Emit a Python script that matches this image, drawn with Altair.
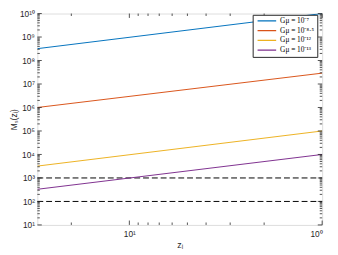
import altair as alt
import pandas as pd

# ---- data ----
z_ends = [30, 1]
series_labels = ["Gμ = 10⁻⁷", "Gμ = 10⁻⁸·⁵", "Gμ = 10⁻¹²", "Gμ = 10⁻¹³"]
blue_vals = [3.2e8, 1.0e10]
orange_vals = [1.0e6, 2.9e7]
yellow_vals = [3.2e3, 1.0e5]
purple_vals = [3.3e2, 1.0e4]
series_colors = ["#0072BD", "#D95319", "#EDB120", "#7E2F8E"]
dashed_levels = [1e3, 1e2]
x_major = [1, 10]
x_minor = [2, 3, 4, 5, 6, 7, 8, 9, 20]
y_major = [10.0 ** k for k in range(1, 11)]
y_minor = [m * 10.0 ** k for k in range(1, 10) for m in range(2, 10)]

W, H = 291, 216
AX = "#262626"

rows = []
for lab, vals in zip(series_labels, [blue_vals, orange_vals, yellow_vals, purple_vals]):
    for z, m in zip(z_ends, vals):
        rows.append({"z": z, "M": m, "series": lab})
df = pd.DataFrame(rows)

dash_df = pd.DataFrame([{"z": z, "M": lv, "lev": str(lv)} for lv in dashed_levels for z in z_ends])

xs = alt.Scale(type="log", domain=[1, 30], reverse=True, nice=False)
ys = alt.Scale(type="log", domain=[10, 1e10], nice=False)

sup = "['⁰','¹','²','³','⁴','⁵','⁶','⁷','⁸','⁹','¹⁰']"
xaxis = alt.Axis(values=x_major, ticks=False, domain=False, grid=False,
                 labelExpr="'10' + " + sup + "[round(log(datum.value)/LN10)]",
                 labelFont="Liberation Sans", labelFontSize=8.5, labelColor=AX,
                 labelPadding=5, title="zᵢ", titleFont="Liberation Sans",
                 titleFontSize=9, titleFontWeight="normal", titleColor=AX, titlePadding=3)
yaxis = alt.Axis(values=y_major, ticks=False, domain=False, grid=False,
                 labelExpr="'10' + " + sup + "[round(log(datum.value)/LN10)]",
                 labelFont="Liberation Sans", labelFontSize=8.5, labelColor=AX,
                 labelPadding=3, title="Mₛ(zᵢ)", titleFont="Liberation Sans",
                 titleFontSize=8.5, titleFontWeight="normal", titleColor=AX, titlePadding=1)

lines = alt.Chart(df).mark_line(strokeWidth=1, clip=True).encode(
    x=alt.X("z:Q", scale=xs, axis=xaxis),
    y=alt.Y("M:Q", scale=ys, axis=yaxis),
    color=alt.Color("series:N", scale=alt.Scale(domain=series_labels, range=series_colors),
                    legend=alt.Legend(title=None, orient="none", legendX=220, legendY=1.3,
                                      direction="vertical", fillColor="white", strokeColor=AX,
                                      padding=1.5, symbolType="stroke", symbolSize=361,
                                      clipHeight=9.3, rowPadding=0,
                                      symbolStrokeWidth=1.2, labelFont="Liberation Serif",
                                      labelFontSize=7.5, labelColor="#000",
                                      symbolOffset=2.5, labelOffset=3)),
)

dashes = alt.Chart(dash_df).mark_line(strokeWidth=1, strokeDash=[6, 3], color="#000").encode(
    x=alt.X("z:Q", scale=xs, axis=xaxis),
    y=alt.Y("M:Q", scale=ys, axis=yaxis),
    detail="lev:N",
)


def xticks(vals, length):
    d = pd.DataFrame({"v": vals})
    base = alt.Chart(d).mark_rule(color=AX, strokeWidth=0.8)
    b = base.encode(x=alt.X("v:Q", scale=xs, axis=xaxis), y=alt.value(H), y2=alt.value(H - length))
    t = base.encode(x=alt.X("v:Q", scale=xs, axis=xaxis), y=alt.value(0), y2=alt.value(length))
    return [b, t]


def yticks(vals, length):
    d = pd.DataFrame({"v": vals})
    base = alt.Chart(d).mark_rule(color=AX, strokeWidth=0.8)
    l = base.encode(y=alt.Y("v:Q", scale=ys, axis=yaxis), x=alt.value(0), x2=alt.value(length))
    r = base.encode(y=alt.Y("v:Q", scale=ys, axis=yaxis), x=alt.value(W), x2=alt.value(W - length))
    return [l, r]


layers = [dashes, lines] + xticks(x_major, 4.5) + xticks(x_minor, 2.5) + yticks(y_major, 4.5) + yticks(y_minor, 2.5)

chart = alt.layer(*layers).properties(
    width=W, height=H,
    autosize=alt.AutoSizeParams(type="none"),
    padding={"left": 30, "top": 3, "right": 8, "bottom": 25},
).configure_view(stroke=AX, strokeWidth=0.8).configure(background="white")

chart.save("out.html", embed_options={"renderer": "svg", "actions": False})
